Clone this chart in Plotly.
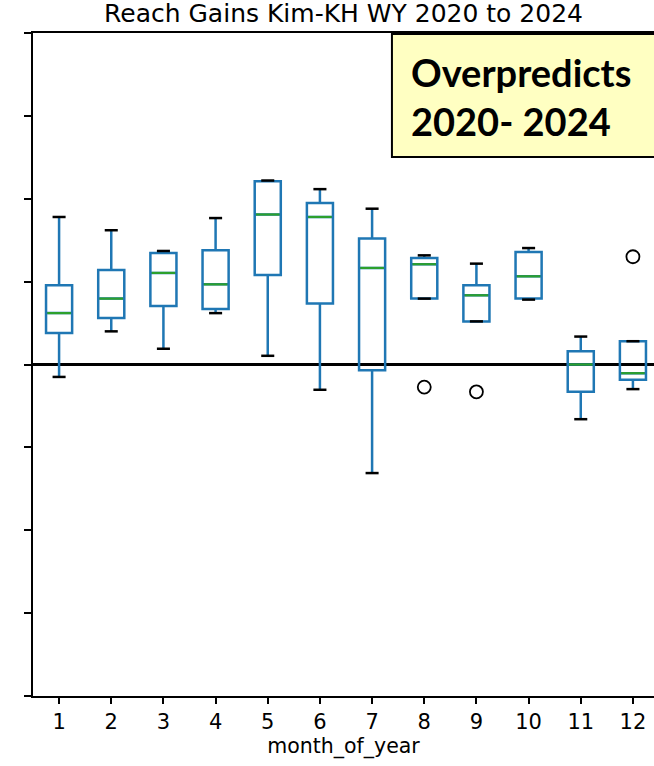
import plotly.graph_objects as go

# Monthly reach-gain residual statistics, WY 2020-2024
months = [1, 2, 3, 4, 5, 6, 7, 8, 9, 10, 11, 12]
lower_whisker = [-0.15, 0.40, 0.19, 0.62, 0.105, -0.305, -1.31, 0.795, 0.52, 0.783, -0.66, -0.297]
q1 = [0.38, 0.56, 0.707, 0.67, 1.08, 0.735, -0.068, 0.795, 0.52, 0.795, -0.33, -0.185]
median = [0.62, 0.795, 1.105, 0.967, 1.81, 1.78, 1.165, 1.21, 0.835, 1.064, 0.0, -0.105]
q3 = [0.955, 1.14, 1.345, 1.38, 2.21, 1.948, 1.52, 1.285, 0.955, 1.357, 0.16, 0.28]
upper_whisker = [1.78, 1.62, 1.37, 1.767, 2.22, 2.116, 1.88, 1.317, 1.217, 1.405, 0.337, 0.281]

# Outlying values (flier points)
outlier_month = [8, 9, 12]
outlier_value = [-0.273, -0.33, 1.30]

y_ticks = [-4, -3, -2, -1, 0, 1, 2, 3, 4]

BLUE = "#1f77b4"
GREEN = "#2ca02c"
BOX_W = 0.5
CAP_W = 0.25

fig = go.Figure()

fig.add_trace(go.Box(
    x=months, q1=q1, median=median, q3=q3,
    lowerfence=lower_whisker, upperfence=upper_whisker,
    width=BOX_W, whiskerwidth=0,
    line=dict(color=BLUE, width=2.5),
    fillcolor="rgba(0,0,0,0)",
    boxpoints=False, hoverinfo="skip", showlegend=False,
))

# green median segments
mx, my = [], []
for m, v in zip(months, median):
    mx += [m - BOX_W / 2 + 0.025, m + BOX_W / 2 - 0.025, None]
    my += [v, v, None]
fig.add_trace(go.Scatter(x=mx, y=my, mode="lines",
                         line=dict(color=GREEN, width=2.2),
                         hoverinfo="skip", showlegend=False))

# black whisker caps
cx, cy = [], []
for m, lo, hi in zip(months, lower_whisker, upper_whisker):
    for v in (lo, hi):
        cx += [m - CAP_W / 2, m + CAP_W / 2, None]
        cy += [v, v, None]
fig.add_trace(go.Scatter(x=cx, y=cy, mode="lines",
                         line=dict(color="black", width=2.5),
                         hoverinfo="skip", showlegend=False))

# fliers
fig.add_trace(go.Scatter(x=outlier_month, y=outlier_value, mode="markers",
                         marker=dict(symbol="circle-open", size=13, color="black",
                                     line=dict(width=1.8, color="black")),
                         hoverinfo="skip", showlegend=False))

# zero reference line
fig.add_shape(type="line", xref="paper", yref="y", x0=0, x1=1, y0=0, y1=0,
              line=dict(color="black", width=3), layer="below")

# annotation box
fig.add_shape(type="rect", xref="paper", yref="paper",
              x0=0.578, x1=1.05, y0=0.813, y1=0.9985,
              fillcolor="#FFFFC2", line=dict(color="black", width=2), layer="above")
fig.add_annotation(xref="paper", yref="paper", x=0.605, y=0.9035,
                   xanchor="left", yanchor="middle", align="left",
                   text="<b>Overpredicts<br>2020- 2024</b>", showarrow=False,
                   font=dict(family="Lato", size=38, color="black"))

fig.update_layout(
    width=654, height=766,
    margin=dict(l=33, r=0, t=33, b=70),
    paper_bgcolor="white", plot_bgcolor="white",
    font=dict(family="DejaVu Sans", color="black"),
    title=dict(text="Reach Gains Kim-KH WY 2020 to 2024",
               x=0.5, xref="paper", y=0.983, yref="container", yanchor="middle",
               font=dict(size=25, family="DejaVu Sans", color="black")),
    xaxis=dict(range=[0.5, 12.404], tickmode="array", tickvals=months,
               ticktext=[str(m) for m in months],
               ticks="outside", ticklen=6, tickwidth=1.5, tickcolor="black",
               showline=True, linecolor="black", linewidth=1.5, mirror=True,
               showgrid=False, zeroline=False,
               tickfont=dict(size=21, family="DejaVu Sans"),
               title=dict(text="month_of_year", font=dict(size=20.5, family="DejaVu Sans"),
                          standoff=4)),
    yaxis=dict(range=[-4, 4], tickmode="array", tickvals=y_ticks,
               ticktext=["" for _ in y_ticks],
               ticks="outside", ticklen=7, tickwidth=1.5, tickcolor="black",
               showline=True, linecolor="black", linewidth=1.5,
               showgrid=False, zeroline=False),
)

fig.write_html("out.html")
